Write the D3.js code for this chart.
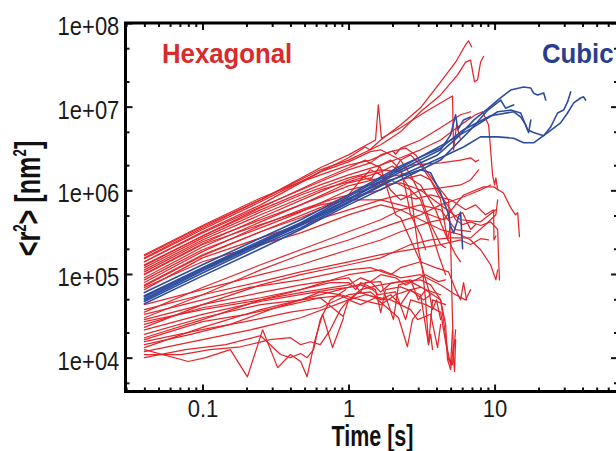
<!DOCTYPE html>
<html>
<head>
<meta charset="utf-8">
<script src="https://cdn.jsdelivr.net/npm/d3@7"></script>
<style>
  body { margin: 0; background: #fff; }
  svg { display: block; }
</style>
</head>
<body>
<svg id="chart" width="616" height="451"></svg>
<script>
// Axis extents and tick labels
const xDomain = [0.0297, 70];          // time [s]
const yDomain = [3940, 1e8];           // <r^2> [nm^2]
const xMajorTicks = [0.1, 1, 10];
const xTickLabels = ["0.1", "1", "10"];
const yMajorTicks = [1e4, 1e5, 1e6, 1e7, 1e8];
const yTickLabels = ["1e+04", "1e+05", "1e+06", "1e+07", "1e+08"];
const yMinorMantissas = [2, 5];
const seriesNames = ["Hexagonal", "Cubic"];

// Mean squared displacement vs time, one array of [t (s), <r^2> (nm^2)] per trajectory
const hexagonalTracks = [
  [[0.04,1.4e5],[0.1,3.2e5],[0.25,6.7e5],[0.64,1.66e6],[1,2.45e6],[1.3,3.3e6],[1.4,3.05e6],[1.66,4e6],[2.27,6.05e6],[3.11,9.7e6],[4.27,1.98e7],[5.41,3.4e7],[6.33,5.5e7],[6.64,6.1e7],[6.96,5.2e7]],
  [[0.04,1.56e5],[0.1,3.55e5],[0.25,7.7e5],[0.64,1.76e6],[1,2.3e6],[1.66,3.5e6],[2.27,5e6],[3.11,8.7e6],[4.27,1.38e7],[5.58,2.4e7],[6.33,3.4e7],[6.85,3.6e7],[7.29,1.98e7],[7.65,2.1e7],[8.02,3.4e7],[8.41,4e7]],
  [[0.04,1.65e5],[0.1,3.7e5],[0.25,7.7e5],[0.64,1.86e6],[1,2.65e6],[1.53,4e6],[1.6,1.05e7],[1.68,4.2e6],[2.27,5.6e6],[3.37,8.7e6],[4.62,1.2e7],[5.15,1.34e7],[5.24,3.05e6],[5.49,6.05e6],[5.85,4e6]],
  [[0.04,1.29e5],[0.1,2.85e5],[0.25,5.85e5],[0.64,1.16e6],[1,1.53e6],[1.66,2e6],[2.27,2.45e6],[3.11,3.05e6],[4.27,4e6],[5.85,6.05e6],[7.41,8e6],[8.27,8.7e6],[9.1,6.05e6],[9.39,3.05e6],[9.69,1.53e6],[10,1.16e6],[10.2,1.41e6],[10.5,1.01e6]],
  [[0.04,1.12e5],[0.1,2.55e5],[0.25,5.1e5],[0.64,1.01e6],[1,1.26e6],[1.66,1.66e6],[2,1.95e6],[2.2,1.7e6],[2.66,2e6],[4.27,2.13e6],[5.85,2.3e6],[6.85,2.45e6],[7.41,2.19e6],[7.77,2.3e6]],
  [[0.04,9.8e4],[0.1,2.25e5],[0.25,3.9e5],[0.64,6.7e5],[1,7.7e5],[1.66,7.7e5],[2.66,6.2e5],[4.47,4.45e5],[6.13,8.8e5],[8.41,1.1e6],[9.85,1.1e6],[11.5,9.3e5],[12.9,6.2e5],[13.9,5.1e5],[14.4,5.4e5],[14.8,2.8e5]],
  [[0.04,1.19e5],[0.1,2.7e5],[0.25,5.5e5],[0.47,8.8e5],[1,1.41e6],[1.66,1.76e6],[2.27,1.66e6],[3.11,1.16e6],[3.94,5.85e5],[4.62,2.95e5],[5.41,1.7e5],[5.85,1.4e5]],
  [[0.04,8.5e4],[0.1,1.95e5],[0.25,3.55e5],[0.47,5.5e5],[1,1.01e6],[1.41,1.16e6],[1.94,1.33e6],[2.66,1.01e6],[3.11,7.7e5],[3.65,3.4e5],[4.13,1.7e5],[4.62,9.8e4]],
  [[0.04,1.7e5],[0.1,3.8e5],[0.25,8.1e5],[0.47,1.26e6],[1,2e6],[1.41,2.3e6],[1.94,2.9e6],[2.46,3.2e6],[2.88,2.65e6],[3.37,1.76e6],[4.27,1.01e6],[4.84,7.7e5],[5,2.55e5],[5.07,8.5e4],[5.15,2.85e4],[5.24,9.5e3],[5.32,6.8e3],[5.41,1.64e4]],
  [[0.04,7.4e4],[0.1,1.7e5],[0.25,3.2e5],[0.47,4.7e5],[1,8.1e5],[1.66,1.01e6],[2.27,1.33e6],[3.11,1.53e6],[3.65,1.33e6],[4.27,8.8e5],[5,5.85e5],[5.41,4.45e5],[6.04,3.9e5],[6.85,4.2e5],[8.02,3.8e5],[9.39,4.2e5],[10.5,3.4e5],[10.6,1.95e5],[10.8,8.5e4]],
  [[0.04,1.4e5],[0.1,3.1e5],[0.25,6.35e5],[0.47,1.01e6],[1,1.76e6],[1.41,2.13e6],[1.66,1.86e6],[1.94,7.7e5],[2.1,5.1e5],[2.27,4.7e5],[2.66,2.55e5],[3.11,1.4e5],[3.53,6.5e4],[3.76,3.75e4],[4,4.9e4],[4.27,2.85e4]],
  [[0.04,1.06e5],[0.1,2.43e5],[0.25,4.45e5],[0.47,6.7e5],[1,1.13e6],[1.66,1.41e6],[2.27,1.53e6],[2.66,1.01e6],[2.88,3.4e5],[3.01,1.95e5],[3.21,1.12e5],[3.37,4.9e4],[3.53,1.43e4],[3.65,1.9e4],[3.76,1.25e4]],
  [[0.04,6.5e4],[0.1,1.56e5],[0.25,2.7e5],[0.47,3.9e5],[1,5.85e5],[1.66,7.7e5],[2.27,8.8e5],[2.9,7.9e5],[3.65,8.8e5],[5,7.7e5],[6.33,5.85e5],[7.41,6.7e5],[8.68,5.1e5],[9.85,5.85e5],[9.9,2.55e5],[10.2,2.85e5]],
  [[0.04,7.9e4],[0.1,1.85e5],[0.25,3.8e5],[0.47,5.85e5],[0.75,7.7e5],[1,8.8e5],[1.21,1.33e6],[1.41,1.76e6],[1.66,1.53e6],[1.94,1.01e6],[2.27,7.7e5],[2.66,8.8e5],[3.11,1.01e6],[4.27,1.07e6],[5.85,1.16e6],[6.85,1.33e6],[7.77,1.76e6]],
  [[0.04,6.9e4],[0.1,1.4e5],[0.25,2.25e5],[0.47,3.1e5],[1,5.1e5],[1.66,6.7e5],[2.27,5.85e5],[3.11,4.45e5],[4.27,3.4e5],[5.85,2.95e5],[6.85,2.55e5],[8.02,1.95e5],[9.39,1.29e5],[10.2,8.5e4],[10.5,1.12e5]],
  [[0.04,9e4],[0.1,2.1e5],[0.25,4.2e5],[0.47,6.7e5],[1,1.23e6],[1.41,1.41e6],[1.66,1.16e6],[1.94,1.53e6],[2.27,2.3e6],[2.66,2.65e6],[3.11,2e6],[3.65,1.33e6],[4.27,7.7e5],[4.76,2.55e5],[5,3.9e5]],
  [[0.04,1.26e5],[0.1,2.85e5],[0.25,6.2e5],[0.64,1.33e6],[1,1.86e6],[1.3,2.3e6],[1.4,2.1e6],[1.66,2.65e6],[2,2.95e6],[2.1,2.7e6],[2.27,3.2e6],[3.11,4e6],[4.27,5.6e6],[5.85,8e6],[6.85,8.7e6]],
  [[0.04,1.52e5],[0.1,3.4e5],[0.25,7.3e5],[0.64,1.66e6],[1,2.19e6],[1.41,2.9e6],[1.66,3.05e6],[2.27,2.3e6],[2.66,1.53e6],[3.11,8.8e5],[3.65,3.9e5],[4.27,2.25e5],[4.62,2.06e5]],
  [[0.04,7.2e4],[0.1,1.65e5],[0.25,3.2e5],[0.64,6.2e5],[1,8.8e5],[1.66,1.16e6],[2.27,1.23e6],[3.11,1.01e6],[4.27,6.7e5],[5.85,4.45e5],[8.02,4.2e5],[10.2,5.85e5]],
  [[0.04,1e5],[0.1,2.3e5],[0.25,4.7e5],[0.64,9.6e5],[1,1.33e6],[1.21,1.49e6],[1.41,1.33e6],[1.66,2e6],[1.94,2.3e6],[2.27,1.76e6],[2.46,1.01e6],[2.66,5.1e5],[3.11,2.95e5],[3.37,1.95e5]],
  [[0.04,4.3e4],[0.1,6.5e4],[0.25,9.8e4],[0.47,1.29e5],[1,1.95e5],[1.66,2.55e5],[2.27,3.2e5],[3.65,4.2e5],[5,4.7e5],[6.04,5.4e5],[6.85,3.4e5],[7.41,3.9e5]],
  [[0.04,3.75e4],[0.1,5.65e4],[0.25,8.1e4],[0.47,1.06e5],[1,1.4e5],[1.66,1.7e5],[2.66,1.95e5],[4.27,2.25e5],[5.85,2.55e5],[6.85,2.25e5],[8.02,2.64e5],[9.1,2.55e5]],
  [[0.04,3.3e4],[0.1,4.9e4],[0.21,6.9e4],[0.47,8.5e4],[1,1.12e5],[1.41,1.19e5],[1.94,9.8e4],[2.27,1.19e5],[3.11,1.4e5],[3.94,1.19e5],[4.84,1.06e5],[5.41,6.5e4],[5.85,4.9e4],[6.13,7.9e4],[6.43,4.9e4]],
  [[0.04,2.85e4],[0.1,4.3e4],[0.25,6e4],[0.47,7.4e4],[1,9e4],[1.21,6.1e4],[1.31,7.9e4],[1.66,8.1e4],[2.03,2.85e4],[2.2,7.4e4],[2.66,8.1e4],[3.37,6.5e4],[4.27,4.9e4],[4.76,1.25e4],[5,8.2e3],[5.15,2.15e4]],
  [[0.04,2.5e4],[0.1,3.95e4],[0.25,5.2e4],[0.47,6.5e4],[0.75,7.9e4],[1,7.9e4],[1.12,6.5e4],[1.21,7.9e4],[1.53,6.5e4],[1.66,3.45e4],[1.79,6.5e4],[2.27,7e4],[3.11,5.65e4],[3.53,1.43e4],[3.76,4.9e4],[4.62,4.3e4]],
  [[0.04,2.15e4],[0.1,3.3e4],[0.25,4.7e4],[0.47,5.65e4],[0.75,6.5e4],[1,6.9e4],[1.21,7.4e4],[1.46,6.5e4],[1.6,5.65e4],[2.1,6.1e4],[2.46,2.85e4],[2.66,4.9e4],[3.37,4.3e4],[4.27,3.5e4],[4.84,9.5e3],[5.15,8.2e3],[5.41,2.15e4]],
  [[0.04,1.9e4],[0.1,3e4],[0.25,4.3e4],[0.47,4.9e4],[0.88,5.5e4],[1.03,4.9e4],[1.17,6.1e4],[1.53,5.2e4],[2.2,3e4],[2.53,1.35e4],[2.74,2.85e4],[3.11,3.75e4]],
  [[0.04,1.64e4],[0.1,2.7e4],[0.2,3.3e4],[0.4,4.3e4],[0.64,5.2e4],[0.92,3.1e4],[1,4.9e4],[1.31,5.65e4],[1.94,4.9e4],[2.66,3.75e4],[2.97,2.85e4],[3.65,3.3e4],[4.07,1.32e4],[4.27,2.5e4]],
  [[0.04,1.43e4],[0.083,1.9e4],[0.155,2.5e4],[0.29,3.75e4],[0.47,4.9e4],[0.64,6.1e4],[0.88,5.65e4],[1.21,4.9e4],[1.66,4.3e4],[2.1,5.65e4],[2.66,6.5e4],[3.26,4.9e4],[3.65,5.65e4]],
  [[0.04,1.25e4],[0.08,9e3],[0.105,1e4],[0.155,1.25e4],[0.203,5.9e3],[0.258,2.15e4],[0.327,7.6e3],[0.4,1.09e4],[0.47,9e3],[0.52,5.9e3],[0.59,1.64e4],[0.664,3.3e4],[0.777,1.32e4],[0.84,1.9e4],[0.924,3e4]],
  [[0.04,1.09e4],[0.071,1.09e4],[0.113,1.25e4],[0.182,1.35e4],[0.29,1.64e4],[0.4,1.73e4],[0.47,1.43e4],[0.55,1.55e4],[0.64,1.43e4],[0.75,2.15e4],[0.88,3.75e4],[1,4.9e4],[1.21,4.3e4],[1.53,5.2e4],[1.79,4.9e4]],
  [[0.04,1e4],[0.0765,1.25e4],[0.144,1.43e4],[0.25,1.83e4],[0.342,1.09e4],[0.4,1e4],[0.47,1.12e4],[0.52,1e4],[0.576,1.25e4],[0.64,2.85e4],[0.75,4.9e4],[0.954,6.5e4]],
  [[0.04,3e4],[0.1,5.65e4],[0.25,1.12e5],[0.47,1.7e5],[1,2.55e5],[1.94,3.9e5],[3.11,5.1e5],[4.27,6.7e5],[5.85,8.1e5],[8.02,1.01e6],[9.39,1.16e6]],
  [[0.04,3.5e4],[0.1,6.9e4],[0.25,1.29e5],[0.47,1.95e5],[1,3.2e5],[1.66,4.45e5],[2.27,5.85e5],[3.11,6.7e5],[4.27,5.85e5],[5.41,3.4e5],[6.85,3.2e5]],
  [[0.04,2.3e4],[0.1,4.3e4],[0.25,7.4e4],[0.47,9.8e4],[1,1.29e5],[1.66,1.56e5],[2.66,2.25e5],[3.65,2.55e5],[5,2.7e5],[6.85,2.7e5],[8.68,3.9e5],[10.2,5.1e5],[10.5,7.7e5]],
  [[0.04,1.73e4],[0.1,2.85e4],[0.25,4.9e4],[0.47,6.5e4],[1,9.8e4],[1.66,1.12e5],[2.27,9e4],[3.11,9.8e4],[4.27,7.4e4],[5.41,5.65e4],[6.33,4.9e4],[6.85,6.5e4]],
  [[0.04,1.32e4],[0.1,2.3e4],[0.25,3.75e4],[0.47,4.9e4],[1,6.9e4],[1.41,8.1e4],[1.66,6.1e4],[1.94,7.7e4],[2.66,8.5e4],[3.01,4.9e4],[3.37,6.5e4],[4.27,5.65e4]],
  [[0.04,1.18e4],[0.1,1.64e4],[0.213,2.15e4],[0.47,3e4],[1,4.9e4],[1.21,6.5e4],[1.66,7.4e4],[2.27,8.1e4],[3.11,8.5e4],[3.65,7.4e4],[4.27,4.9e4],[4.62,2.5e4],[4.76,9.5e3],[5,7.2e3],[5.24,1.43e4]],
  [[0.04,1.55e4],[0.097,2.15e4],[0.197,2.7e4],[0.4,3.5e4],[0.64,3.95e4],[1,5.65e4],[1.41,6.1e4],[1.66,4.9e4],[1.94,5.65e4],[2.27,4.3e4],[2.66,6.5e4],[3.11,6.9e4]],
  [[0.04,2.7e4],[0.1,3.75e4],[0.25,4.9e4],[0.47,6e4],[1,7.4e4],[1.21,9e4],[1.41,8.1e4],[1.66,9.8e4],[2.1,9e4],[2.46,7.4e4],[2.88,8.5e4],[3.37,9.8e4],[4.13,8.1e4],[4.62,8.5e4]]
];

const cubicTracks = [
  [[0.04,5.1e4],[0.1,1.12e5],[0.25,2.35e5],[0.47,3.9e5],[1,7.7e5],[2.27,1.66e6],[4.07,2.65e6],[5.5,4.2e6],[7.2,6.9e6],[9,9.5e6],[10.5,1.2e7],[12.9,1.58e7],[15.8,1.72e7],[17.7,1.67e7],[18.5,1.45e7],[19.7,1.38e7],[21.7,1.46e7],[22.4,1.2e7]],
  [[0.04,5.5e4],[0.1,1.19e5],[0.25,2.5e5],[0.47,4.1e5],[1,8.4e5],[2.27,1.86e6],[4.27,3.4e6],[7.18,5.7e6],[10.5,8.7e6],[12.9,9.1e6],[15.1,8.4e6],[16.8,5.3e6],[18.5,4.9e6],[21.7,4.5e6],[24.2,5.7e6],[27,8.4e6],[29.7,9.1e6],[31.6,1.14e7],[33.2,1.5e7]],
  [[0.04,4.7e4],[0.1,1.03e5],[0.25,2.2e5],[0.47,3.55e5],[1,7.1e5],[2.27,1.49e6],[4.27,2.45e6],[6.13,3.3e6],[8,4.35e6],[10.5,4.35e6],[13.5,4.2e6],[15.8,3.7e6],[18.5,3.7e6],[23.1,4.9e6],[28.3,6.4e6],[31.6,8.4e6],[34.8,1.11e7],[38.8,1.27e7],[40.7,1.31e7],[42,1.2e7]],
  [[0.04,6e4],[0.1,1.29e5],[0.25,2.7e5],[0.47,4.45e5],[1,8.8e5],[2.27,1.96e6],[4.27,3.2e6],[6.13,5.3e6],[9.4,7.8e6],[13.5,8.7e6],[15.1,7.5e6],[16.3,6.1e6],[17.1,4.9e6],[17.7,6.9e6]],
  [[0.04,5.35e4],[0.1,1.16e5],[0.25,2.4e5],[0.47,4e5],[1,7.9e5],[2.27,1.76e6],[4.27,3.05e6],[5,4.6e6],[5.41,8e6],[5.6,5.3e6],[6.13,6.95e6],[6.85,7.5e6]],
  [[0.04,4.9e4],[0.1,1.09e5],[0.25,2.3e5],[0.47,3.8e5],[1,7.3e5],[1.94,1.33e6],[3.11,1.76e6],[3.65,1.62e6],[4.27,9.3e5],[4.8,5.4e5],[5,3.7e5],[5.24,3.1e5],[5.67,4.8e5],[5.85,5.5e5],[6.04,2.0e5]],
  [[0.04,4.4e4],[0.1,9.5e4],[0.25,2e5],[0.47,3.4e5],[1,6.7e5],[2.27,1.33e6],[4.27,2.3e6],[6.85,5.3e6],[9,9.1e6],[11,1.2e7],[11.9,9.6e6],[13.5,1.05e7]]
];

const hexColor = "#e2262b";
const cubicColor = "#2f4d9f";
const font = "'Liberation Sans', Arial, Helvetica, sans-serif";

const plot = { left: 125.5, right: 618, top: 23, bottom: 391.5 };
const svg = d3.select("#chart");

const x = d3.scaleLog().domain(xDomain).range([plot.left, plot.right]);
const y = d3.scaleLog().domain(yDomain).range([plot.bottom, plot.top]);

svg.append("rect").attr("width", 616).attr("height", 451).attr("fill", "#fff");

// trajectories
svg.append("defs").append("clipPath").attr("id", "plotClip")
  .append("rect").attr("x", plot.left).attr("y", plot.top)
  .attr("width", plot.right - plot.left).attr("height", plot.bottom - plot.top);

const line = d3.line().x(d => x(d[0])).y(d => y(d[1]));
const traces = svg.append("g").attr("clip-path", "url(#plotClip)")
  .attr("fill", "none").attr("stroke-linejoin", "round").attr("stroke-linecap", "round");

traces.append("g").selectAll("path").data(hexagonalTracks).join("path")
  .attr("d", line).attr("stroke", hexColor).attr("stroke-width", 1.25);

traces.append("g").selectAll("path").data(cubicTracks).join("path")
  .attr("d", line).attr("stroke", cubicColor).attr("stroke-width", 1.6);

// axes: inward ticks on all four sides
const xMinor = x.ticks().filter(v => !xMajorTicks.some(m => Math.abs(m - v) < 1e-9));
const yMinor = [];
for (let e = 3; e < 8; e++) yMinorMantissas.forEach(m => {
  const v = m * Math.pow(10, e);
  if (v > yDomain[0] && v < yDomain[1]) yMinor.push(v);
});

function styleAxis(g) {
  g.select(".domain").remove();
  g.selectAll(".tick line").attr("stroke", "#111").attr("stroke-width", 2);
}

const majorLen = 7, minorLen = 4;

// bottom
svg.append("g").attr("transform", `translate(0,${plot.bottom})`)
  .call(d3.axisBottom(x).tickValues(xMinor).tickSize(-minorLen).tickFormat(""))
  .call(styleAxis);
const xAxisG = svg.append("g").attr("transform", `translate(0,${plot.bottom})`)
  .call(d3.axisBottom(x).tickValues(xMajorTicks).tickSize(-majorLen).tickPadding(8)
    .tickFormat((d, i) => xTickLabels[i]))
  .call(styleAxis);
xAxisG.selectAll(".tick text")
  .attr("font-family", font).attr("font-size", 24).attr("fill", "#1a1a1a")
  .attr("transform", "scale(0.92,1)");

// top
svg.append("g").attr("transform", `translate(0,${plot.top})`)
  .call(d3.axisTop(x).tickValues(xMinor).tickSize(-minorLen).tickFormat(""))
  .call(styleAxis);
svg.append("g").attr("transform", `translate(0,${plot.top})`)
  .call(d3.axisTop(x).tickValues(xMajorTicks).tickSize(-majorLen).tickFormat(""))
  .call(styleAxis);

// left
svg.append("g").attr("transform", `translate(${plot.left},0)`)
  .call(d3.axisLeft(y).tickValues(yMinor).tickSize(-minorLen).tickFormat(""))
  .call(styleAxis);
const yAxisG = svg.append("g").attr("transform", `translate(${plot.left},0)`)
  .call(d3.axisLeft(y).tickValues(yMajorTicks).tickSize(-majorLen).tickPadding(7)
    .tickFormat((d, i) => yTickLabels[i]))
  .call(styleAxis);
yAxisG.selectAll(".tick text")
  .attr("font-family", font).attr("font-size", 25).attr("fill", "#1a1a1a")
  .attr("dy", "0.46em").attr("transform", "scale(0.88,1)");

// right
svg.append("g").attr("transform", `translate(${plot.right},0)`)
  .call(d3.axisRight(y).tickValues(yMinor).tickSize(-minorLen).tickFormat(""))
  .call(styleAxis);
svg.append("g").attr("transform", `translate(${plot.right},0)`)
  .call(d3.axisRight(y).tickValues(yMajorTicks).tickSize(-majorLen).tickFormat(""))
  .call(styleAxis);

// frame
svg.append("rect")
  .attr("x", plot.left).attr("y", plot.top)
  .attr("width", plot.right - plot.left).attr("height", plot.bottom - plot.top)
  .attr("fill", "none").attr("stroke", "#000").attr("stroke-width", 3);

// axis titles
svg.append("text")
  .attr("transform", "translate(372.5,446) scale(0.74,1)")
  .attr("text-anchor", "middle").attr("font-family", font)
  .attr("font-weight", "bold").attr("font-size", 29).attr("fill", "#111")
  .text("Time [s]");

const yTitle = svg.append("text")
  .attr("transform", "translate(40,198.5) rotate(-90) scale(0.7,1)")
  .attr("text-anchor", "middle").attr("font-family", font)
  .attr("font-weight", "bold").attr("font-size", 36).attr("fill", "#111");
yTitle.append("tspan").text("<r");
yTitle.append("tspan").attr("dy", -14).attr("font-size", 19).text("2");
yTitle.append("tspan").attr("dy", 14).text("> [nm");
yTitle.append("tspan").attr("dy", -14).attr("font-size", 19).text("2");
yTitle.append("tspan").attr("dy", 14).text("]");

// series labels
svg.append("text")
  .attr("transform", "translate(162,63) scale(0.92,1)")
  .attr("font-family", font).attr("font-weight", "bold").attr("font-size", 28)
  .attr("fill", "#d92a2c").text(seriesNames[0]);
svg.append("text")
  .attr("transform", "translate(542,63) scale(0.92,1)")
  .attr("font-family", font).attr("font-weight", "bold").attr("font-size", 28)
  .attr("fill", "#2b3d8e").text(seriesNames[1]);
</script>
</body>
</html>
